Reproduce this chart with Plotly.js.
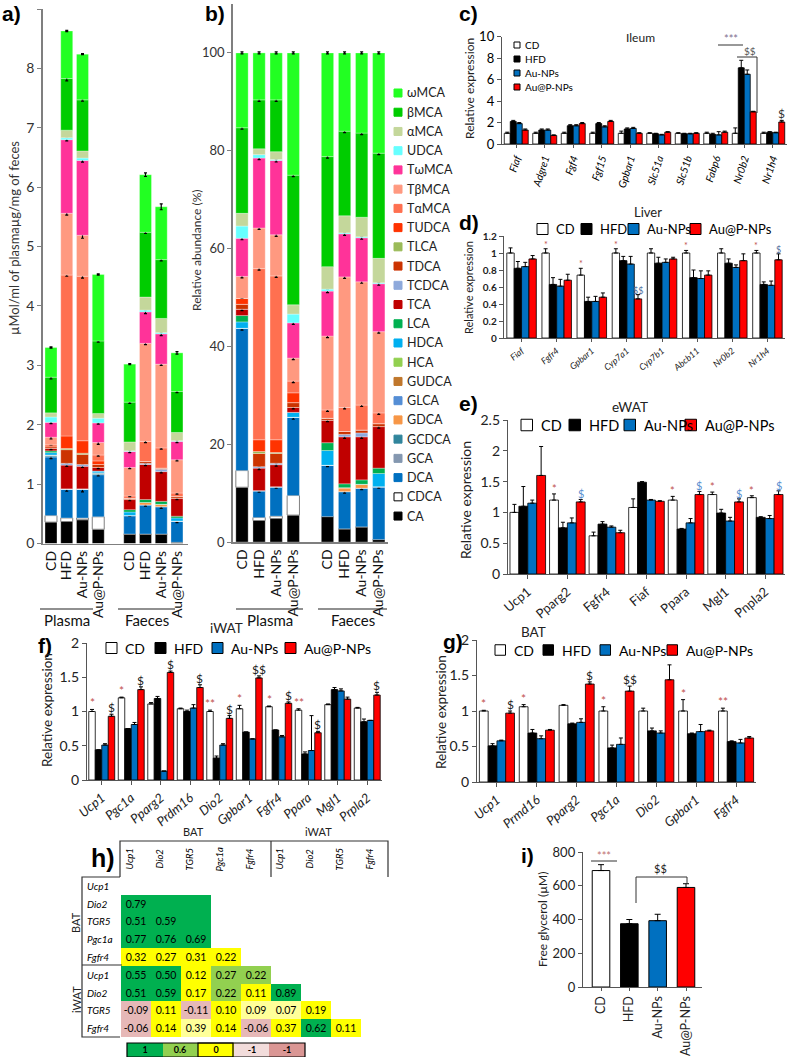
<!DOCTYPE html>
<html><head><meta charset="utf-8">
<script src="https://cdn.plot.ly/plotly-3.0.1.min.js"></script>
<style>html,body{margin:0;padding:0;background:#fff}#chart{width:789px;height:1057px}</style>
</head><body><div id="chart"></div><script>
const W=789,H=1057;
const FONT='Lato, "Noto Sans", "DejaVu Sans", sans-serif';
const TXT='#333333';

// ---------- Panels a & b : bile acids ----------
const barLabels=['CD','HFD','Au-NPs','Au@P-NPs','CD','HFD','Au-NPs','Au@P-NPs'];
const barPositions=[0,1,2,3,5,6,7,8];
const sampleGroups=['Plasma','Faeces'];
const acidNames=['CA','CDCA','DCA','GCA','GCDCA','GDCA','GLCA','GUDCA','HCA','HDCA','LCA','TCA','TCDCA','TDCA','TLCA','TUDCA','TαMCA','TβMCA','TωMCA','UDCA','αMCA','βMCA','ωMCA'];
const acidColors=['#000000','#ffffff','#0070c0','#8497b0','#31859c','#f79646','#558ed5','#c0772c','#92d050','#00b0f0','#00b050','#c00000','#8ea9db','#cc3300','#9bbb59','#ff3300','#ff7050','#ff9980','#ff3399','#66ffff','#c4d79b','#00cc00','#22ff22'];

// absolute concentrations (µMol/ml plasma, µg/mg feces)
const concCA=[0.36,0.37,0.40,0.24,0.16,0.16,0.16,0.02];
const concCDCA=[0.11,0.06,0.03,0.21,0,0,0,0];
const concDCA=[0.99,0.49,0.49,0.71,0.31,0.49,0.46,0.36];
const concGCA=[0,0,0,0,0,0,0,0];
const concGCDCA=[0.03,0,0,0.03,0,0,0,0];
const concGDCA=[0,0,0,0,0,0.04,0.04,0];
const concGLCA=[0,0,0,0,0,0,0,0];
const concGUDCA=[0,0,0,0,0,0,0,0];
const concHCA=[0,0,0,0,0,0,0,0];
const concHDCA=[0.04,0,0,0.03,0.06,0,0,0.05];
const concLCA=[0.03,0,0,0,0.04,0.05,0.05,0.03];
const concTCA=[0.04,0.40,0.38,0.06,0.17,0.59,0.50,0.30];
const concTCDCA=[0,0.03,0.03,0,0,0.02,0.04,0];
const concTDCA=[0.03,0.23,0.17,0.05,0.02,0.03,0.02,0.03];
const concTLCA=[0,0.02,0.02,0,0,0,0,0];
const concTUDCA=[0.03,0.21,0.21,0.06,0,0,0,0];
const concTaMCA=[0,2.71,2.77,0.10,0.04,0.34,0.34,0.06];
const concTbMCA=[0.13,1.04,0.69,0.21,0.48,1.65,1.41,0.56];
const concTwMCA=[0.25,1.24,1.26,0.33,0.27,0.53,0.51,0.31];
const concUDCA=[0.09,0.03,0.04,0.08,0.01,0.03,0.02,0.01];
const concaMCA=[0.07,0.13,0.12,0.08,0.15,0.22,0.24,0.14];
const concbMCA=[0.60,0.87,0.86,1.22,0.67,1.09,0.99,0.69];
const concwMCA=[0.50,0.80,0.77,1.12,0.64,0.97,0.89,0.65];
const concRows=[concCA,concCDCA,concDCA,concGCA,concGCDCA,concGDCA,concGLCA,concGUDCA,concHCA,concHDCA,concLCA,concTCA,concTCDCA,concTDCA,concTLCA,concTUDCA,concTaMCA,concTbMCA,concTwMCA,concUDCA,concaMCA,concbMCA,concwMCA];
// SEM of the main fractions (absolute)
const concErrDCA=[0.03,0.04,0.05,0.02,0.01,0.02,0.03,0.03];
const concErrTCA=[0.02,0.02,0.02,0.02,0.02,0.02,0.02,0.02];
const concErrTaMCA=[0,0.02,0.03,0.02,0.01,0.02,0.02,0.02];
const concErrTbMCA=[0.03,0.03,0.05,0.03,0.02,0.02,0.02,0.02];
const concErrTwMCA=[0.02,0.02,0.03,0.02,0.02,0.03,0.03,0.02];
const concErrbMCA=[0.03,0.04,0.02,0.02,0.02,0.02,0.02,0.02];
const concErrwMCA=[0.01,0.01,0.01,0.01,0.01,0.03,0.05,0.02];

// relative abundance (%)
const pctCA=[11.2,4.4,4.8,5.5,5.2,2.7,3.1,0.5];
const pctCDCA=[3.4,0.6,0.5,4.0,0,0,0,0];
const pctDCA=[29.1,5.5,6.0,16.0,10.5,7.6,7.9,10.8];
const pctGCA=[0,0,0,0,0,0,0,0];
const pctGCDCA=[0,0,0,0,0,0,0,0];
const pctGDCA=[0,0,0,0,0,0.8,0.8,0];
const pctGLCA=[0,0,0,0,0,0,0,0];
const pctGUDCA=[0,0,0,0,0,0,0,0];
const pctHCA=[0,0,0,0,0,0,0,0];
const pctHDCA=[1.3,0,0,1.0,3.0,0,0,2.7];
const pctLCA=[1.3,0,0,0,1.6,0.8,0.9,1.1];
const pctTCA=[1.3,4.6,4.5,1.0,4.6,9.6,8.8,8.5];
const pctTCDCA=[0,0.3,0.3,0,0,0.5,0.8,0];
const pctTDCA=[1.0,2.7,2.0,1.0,0.4,0.6,0.6,0.6];
const pctTLCA=[0,0.4,0.2,0,0,0,0,0];
const pctTUDCA=[1.2,2.4,2.6,2.0,0,0,0,0];
const pctTaMCA=[0,35.0,33.5,2.4,1.7,4.9,5.1,2.2];
const pctTbMCA=[4.5,8.3,8.4,4.7,15.1,26.7,25.2,16.6];
const pctTwMCA=[7.8,14.3,15.2,7.2,9.2,8.8,9.0,9.8];
const pctUDCA=[2.5,0.7,0.2,1.8,0.4,0.2,0.2,0.2];
const pctaMCA=[2.6,1.2,1.6,1.9,4.6,3.5,4.0,5.0];
const pctbMCA=[17.5,10.0,10.6,26.5,22.5,17.3,17.2,21.5];
const pctwMCA=[15.3,9.6,9.6,25.0,21.2,16.0,16.4,20.5];
const pctRows=[pctCA,pctCDCA,pctDCA,pctGCA,pctGCDCA,pctGDCA,pctGLCA,pctGUDCA,pctHCA,pctHDCA,pctLCA,pctTCA,pctTCDCA,pctTDCA,pctTLCA,pctTUDCA,pctTaMCA,pctTbMCA,pctTwMCA,pctUDCA,pctaMCA,pctbMCA,pctwMCA];
// SEM of the main fractions (relative)
const pctErrDCA=[0.4,0.3,0.3,0.4,0.3,0.3,0.3,0.3];
const pctErrTCA=[0.3,0.3,0.3,0.3,0.3,0.3,0.3,0.3];
const pctErrTaMCA=[0,0.3,0.3,0.3,0.3,0.3,0.3,0.3];
const pctErrTbMCA=[0.3,0.3,0.3,0.3,0.3,0.3,0.3,0.3];
const pctErrTwMCA=[0.3,0.3,0.3,0.3,0.3,0.3,0.3,0.3];
const pctErrbMCA=[0.3,0.3,0.3,0.3,0.3,0.3,0.3,0.3];
const pctErrwMCA=[0.2,0.2,0.2,0.2,0.2,0.2,0.2,0.2];

// ---------- Grouped expression panels ----------
const seriesNames=['CD','HFD','Au-NPs','Au@P-NPs'];
const seriesColors=['#ffffff','#000000','#0070c0','#ff0000'];

const ileumGenes=['Fiaf','Adgre1','Fgf4','Fgf15','Gpbar1','Slc51a','Slc51b','Fabp6','Nr0b2','Nr1h4'];
const ileumCD=[1,1,1,1,1,1,1,1,1,1];
const ileumHFD=[2.1,1.3,1.7,1.9,1.4,0.95,0.95,0.9,7.1,1.1];
const ileumAu=[1.9,1.3,1.7,1.6,1.45,0.85,0.95,0.85,6.5,1.05];
const ileumAuP=[1.3,0.8,1.9,2.1,1.0,1.1,1.0,1.1,3.0,2.05];
const ileumCDErr=[0.1,0.1,0.1,0.1,0.2,0.05,0.05,0.1,0.5,0.1];
const ileumHFDErr=[0.1,0.1,0.1,0.1,0.1,0.05,0.05,0.1,0.7,0.05];
const ileumAuErr=[0.1,0.1,0.1,0.1,0.1,0.05,0.05,0.3,0.4,0.05];
const ileumAuPErr=[0.1,0.05,0.1,0.1,0.05,0.05,0.05,0.1,0.05,0.15];

const liverGenes=['Fiaf','Fgfr4','Gpbar1','Cyp7a1','Cyp7b1','Abcb11','Nr0b2','Nr1h4'];
const liverCD=[1.0,1.0,0.74,1.0,1.0,1.0,1.0,1.0];
const liverHFD=[0.82,0.63,0.43,0.91,0.88,0.71,0.88,0.63];
const liverAu=[0.84,0.61,0.43,0.87,0.89,0.70,0.83,0.62];
const liverAuP=[0.93,0.68,0.48,0.46,0.93,0.74,0.91,0.92];
const liverCDErr=[0.06,0.05,0.08,0.05,0.05,0.03,0.05,0.03];
const liverHFDErr=[0.08,0.08,0.05,0.05,0.07,0.09,0.05,0.03];
const liverAuErr=[0.05,0.08,0.06,0.09,0.04,0.09,0.03,0.05];
const liverAuPErr=[0.04,0.07,0.05,0.05,0.02,0.05,0.08,0.07];

const ewatGenes=['Ucp1','Pparg2','Fgfr4','Fiaf','Ppara','Mgl1','Pnpla2'];
const ewatCD=[1.0,1.2,0.62,1.08,1.2,1.29,1.24];
const ewatHFD=[1.1,0.75,0.81,1.49,0.73,0.99,0.92];
const ewatAu=[1.15,0.83,0.76,1.2,0.83,0.86,0.9];
const ewatAuP=[1.6,1.17,0.67,1.18,1.29,1.17,1.29];
const ewatCDErr=[0.13,0.1,0.06,0.14,0.06,0.04,0.03];
const ewatHFDErr=[0.32,0.09,0.04,0.01,0.01,0.06,0.01];
const ewatAuErr=[0.05,0.08,0.02,0.01,0.07,0.06,0.05];
const ewatAuPErr=[0.47,0.04,0.04,0.01,0.05,0.05,0.06];

const iwatGenes=['Ucp1','Pgc1a','Pparg2','Prdm16','Dio2','Gpbar1','Fgfr4','Ppara','Mgl1','Prpla2'];
const iwatCD=[1.0,1.2,1.11,1.04,1.0,1.04,1.07,1.02,1.1,1.05];
const iwatHFD=[0.44,0.75,1.19,1.0,0.32,0.7,0.73,0.38,1.32,0.85];
const iwatAu=[0.51,0.81,0.13,1.05,0.51,0.6,0.63,0.43,1.3,0.87];
const iwatAuP=[0.93,1.32,1.57,1.35,0.9,1.49,1.12,0.69,1.18,1.24];
const iwatCDErr=[0.03,0.01,0.02,0.01,0.02,0.05,0.01,0.02,0.01,0.01];
const iwatHFDErr=[0,0,0.03,0.02,0.03,0,0,0.03,0.03,0.04];
const iwatAuErr=[0.02,0.03,0,0.05,0.02,0,0.02,0.51,0.03,0];
const iwatAuPErr=[0.03,0.04,0.02,0.04,0.04,0.03,0.02,0.02,0.03,0.04];

const batGenes=['Ucp1','Prmd16','Pparg2','Pgc1a','Dio2','Gpbar1','Fgfr4'];
const batCD=[1.0,1.06,1.08,1.0,1.0,1.0,1.0];
const batHFD=[0.51,0.69,0.82,0.48,0.72,0.68,0.57];
const batAu=[0.58,0.61,0.84,0.53,0.69,0.71,0.55];
const batAuP=[0.97,0.73,1.38,1.28,1.44,0.72,0.62];
const batCDErr=[0.01,0.03,0.01,0.06,0.04,0.16,0.04];
const batHFDErr=[0.03,0.05,0.01,0.04,0.04,0.01,0.01];
const batAuErr=[0.01,0.04,0.05,0.09,0.03,0.1,0.05];
const batAuPErr=[0.03,0.01,0.03,0.07,0.21,0.01,0.02];

// significance marks: [gene, series index, mark]
const liverMarks=[['Fgfr4',0,'*'],['Gpbar1',0,'*'],['Cyp7a1',0,'*'],['Cyp7a1',3,'$$'],['Abcb11',0,'*'],['Nr1h4',0,'*'],['Nr1h4',3,'$']];
const ileumMarks=[['Nr1h4',3,'$']];
const ewatMarks=[['Pparg2',0,'*'],['Pparg2',3,'$'],['Ppara',0,'*'],['Ppara',3,'$'],['Mgl1',0,'*'],['Mgl1',3,'$'],['Pnpla2',0,'*'],['Pnpla2',3,'$']];
const iwatMarks=[['Ucp1',0,'*'],['Ucp1',3,'$'],['Pgc1a',0,'*'],['Pgc1a',3,'$'],['Pparg2',3,'$'],['Prdm16',3,'$'],['Dio2',0,'**'],['Dio2',3,'$'],['Gpbar1',0,'*'],['Gpbar1',3,'$$'],['Fgfr4',0,'*'],['Fgfr4',3,'$'],['Ppara',0,'**'],['Ppara',3,'$'],['Prpla2',3,'$']];
const batMarks=[['Ucp1',0,'*'],['Ucp1',3,'$'],['Prmd16',0,'*'],['Pparg2',3,'$'],['Pgc1a',0,'*'],['Pgc1a',3,'$$'],['Gpbar1',0,'*'],['Fgfr4',0,'**']];

// ---------- Panel i ----------
const glycerolGroups=['CD','HFD','Au-NPs','Au@P-NPs'];
const glycerolValues=[690,375,393,590];
const glycerolErr=[35,25,38,22];

// ---------- Panel h : correlation table ----------
const corrLabels=['Ucp1','Dio2','TGR5','Pgc1a','Fgfr4','Ucp1','Dio2','TGR5','Fgfr4'];
const corrValues=[
 [null,null,null,null,null,null,null,null,null],
 [0.79,null,null,null,null,null,null,null,null],
 [0.51,0.59,null,null,null,null,null,null,null],
 [0.77,0.76,0.69,null,null,null,null,null,null],
 [0.32,0.27,0.31,0.22,null,null,null,null,null],
 [0.55,0.50,0.12,0.27,0.22,null,null,null,null],
 [0.51,0.59,0.17,0.22,0.11,0.89,null,null,null],
 [-0.09,0.11,-0.11,0.10,0.09,0.07,0.19,null,null],
 [-0.06,0.14,0.39,0.14,-0.06,0.37,0.62,0.11,null]];
// colour class: 0 dark green, 1 light green, 2 yellow, 3 pale yellow, 4 pink
const corrClass=[
 [null,null,null,null,null,null,null,null,null],
 [0,0,0,null,null,null,null,null,null],
 [0,0,0,null,null,null,null,null,null],
 [0,0,0,null,null,null,null,null,null],
 [2,2,2,2,null,null,null,null,null],
 [0,0,2,1,1,null,null,null,null],
 [0,0,2,1,2,0,null,null,null],
 [4,2,4,2,3,3,2,null,null],
 [4,2,3,2,4,2,0,2,null]];
const keyLabels=['1','0.6','0','-1','-1'];
const keyColors=['#00b050','#92d050','#ffff00','#f2dcdb','#da9694'];

// ================= construction =================
function PX(x){return x/W;} function PY(y){return 1-y/H;}
function xd(a,b){return [a/W,b/W];}
function yd(top,bot){return [1-bot/H,1-top/H];}
const traces=[],shapes=[],annotations=[];
function line(x0,y0,x1,y1,color,w){shapes.push({type:'line',xref:'paper',yref:'paper',x0:PX(x0),y0:PY(y0),x1:PX(x1),y1:PY(y1),line:{color:color||'#000',width:w||1}});}
function path(pts,color,w){shapes.push({type:'path',xref:'paper',yref:'paper',path:pts.map((p,i)=>(i?'L':'M')+PX(p[0])+','+PY(p[1])).join(' '),line:{color:color||'#000',width:w||1}});}
function txt(x,y,t,opt){const o=Object.assign({xref:'paper',yref:'paper',x:PX(x),y:PY(y),text:t,showarrow:false,xanchor:'center',yanchor:'middle'},opt||{});o.font=Object.assign({family:FONT,size:13,color:TXT},(opt||{}).font||{});annotations.push(o);}
function box(x,y,s,fill){shapes.push({type:'rect',xref:'paper',yref:'paper',x0:PX(x),x1:PX(x+s),y0:PY(y+s/2),y1:PY(y-s/2),fillcolor:fill,line:{color:'#000',width:1}});}

// stacked panels
function stacked(rows,errMap,xa,ya,width){
  const base=rows[0].map(()=>0);
  rows.forEach((r,k)=>{
    const tr={type:'bar',x:barPositions,y:r,base:base.slice(),width:width,xaxis:xa,yaxis:ya,name:acidNames[k],showlegend:false,hoverinfo:'name+y',
      marker:{color:acidColors[k],line:{color:k===1?'#808080':'rgba(255,255,255,0.6)',width:k===1?1:0.5}}};
    const e=errMap[acidNames[k]];
    if(e) tr.error_y={type:'data',array:e,color:'#000',thickness:1.2,width:1.5};
    traces.push(tr);
    r.forEach((v,i)=>base[i]+=v);
  });
}
stacked(concRows,{'DCA':concErrDCA,'TCA':concErrTCA,'TαMCA':concErrTaMCA,'TβMCA':concErrTbMCA,'TωMCA':concErrTwMCA,'βMCA':concErrbMCA,'ωMCA':concErrwMCA},'x','y',0.76);
stacked(pctRows,{'DCA':pctErrDCA,'TCA':pctErrTCA,'TαMCA':pctErrTaMCA,'TβMCA':pctErrTbMCA,'TωMCA':pctErrTwMCA,'βMCA':pctErrbMCA,'ωMCA':pctErrwMCA},'x2','y2',0.72);

// grouped panels
function grouped(n,genes,vals,errs,w,marks,markColors,markSize){
  const xa='x'+n,ya='y'+n;
  vals.forEach((v,s)=>{
    traces.push({type:'bar',x:genes,y:v,xaxis:xa,yaxis:ya,width:w,offset:-2*w+s*w,name:seriesNames[s],showlegend:false,
      marker:{color:seriesColors[s],line:{color:'#000',width:0.8}},
      error_y:{type:'data',array:errs[s],arrayminus:errs[s].map(()=>0),symmetric:false,color:'#000',thickness:1,width:2}});
  });
  marks.forEach(m=>{
    const g=genes.indexOf(m[0]),s=m[1];
    annotations.push({xref:xa,yref:ya,x:g-2*w+s*w+w/2,y:vals[s][g]+errs[s][g],text:m[2],showarrow:false,yanchor:'bottom',yshift:-3,
      font:{family:FONT,size:markSize,color:m[2].indexOf('*')>=0?markColors[0]:markColors[1]}});
  });
}
grouped(3,ileumGenes,[ileumCD,ileumHFD,ileumAu,ileumAuP],[ileumCDErr,ileumHFDErr,ileumAuErr,ileumAuPErr],0.21,ileumMarks,['#b05050','#333'],12);
grouped(4,liverGenes,[liverCD,liverHFD,liverAu,liverAuP],[liverCDErr,liverHFDErr,liverAuErr,liverAuPErr],0.21,liverMarks,['#c0504d','#4f6fa0'],9);
grouped(5,ewatGenes,[ewatCD,ewatHFD,ewatAu,ewatAuP],[ewatCDErr,ewatHFDErr,ewatAuErr,ewatAuPErr],0.225,ewatMarks,['#c0504d','#5b8fd0'],11);
grouped(6,iwatGenes,[iwatCD,iwatHFD,iwatAu,iwatAuP],[iwatCDErr,iwatHFDErr,iwatAuErr,iwatAuPErr],0.22,iwatMarks,['#c0504d','#222'],12);
grouped(7,batGenes,[batCD,batHFD,batAu,batAuP],[batCDErr,batHFDErr,batAuErr,batAuPErr],0.22,batMarks,['#c0504d','#222'],12);

// panel i
traces.push({type:'bar',x:glycerolGroups,y:glycerolValues,xaxis:'x8',yaxis:'y8',width:0.62,showlegend:false,name:'Free glycerol',
  marker:{color:seriesColors,line:{color:'#000',width:1}},
  error_y:{type:'data',array:glycerolErr,arrayminus:glycerolErr.map(()=>0),symmetric:false,color:'#000',thickness:1,width:3}});

// panel h heatmap
const idx=corrLabels.map((_,i)=>i);
traces.push({type:'heatmap',x:idx,y:idx,z:corrClass,text:corrValues.map(r=>r.map(v=>v==null?'':v.toFixed(2))),texttemplate:'%{text}',
  textfont:{family:FONT,size:10.5,color:'#000'},zmin:-0.5,zmax:4.5,showscale:false,hoverinfo:'skip',xaxis:'x9',yaxis:'y9',
  colorscale:[[0,'#00b050'],[0.2,'#00b050'],[0.2,'#92d050'],[0.4,'#92d050'],[0.4,'#ffff00'],[0.6,'#ffff00'],[0.6,'#ffff99'],[0.8,'#ffff99'],[0.8,'#e6b8b7'],[1,'#e6b8b7']]});
traces.push({type:'heatmap',x:keyLabels.map((_,i)=>i),y:[0],z:[keyLabels.map((_,i)=>i)],text:[keyLabels],texttemplate:'%{text}',
  textfont:{family:FONT,size:9,color:'#000',weight:'bold'},zmin:-0.5,zmax:4.5,showscale:false,hoverinfo:'skip',xaxis:'x10',yaxis:'y10',
  colorscale:keyColors.flatMap((c,i)=>[[i/5,c],[(i+1)/5,c]])});

// ---------- axes ----------
function yax(top,bot,range,anchor,extra){return Object.assign({domain:yd(top,bot),range:range,anchor:anchor,showgrid:false,zeroline:false,showline:true,
  linecolor:'#7f7f7f',linewidth:1.2,ticks:'outside',ticklen:4,tickcolor:'#7f7f7f',tickfont:{family:FONT,size:13,color:TXT},fixedrange:true},extra||{});}
function xax(a,b,anchor,extra){return Object.assign({domain:xd(a,b),anchor:anchor,showgrid:false,zeroline:false,showline:true,linecolor:'#7f7f7f',linewidth:1.2,
  ticks:'',tickfont:{family:FONT,size:13,color:TXT},fixedrange:true},extra||{});}

const layout={width:W,height:H,margin:{l:0,r:0,t:0,b:0},paper_bgcolor:'#fff',plot_bgcolor:'rgba(0,0,0,0)',barmode:'overlay',showlegend:false,
  font:{family:FONT,color:TXT},
  xaxis:xax(43,188,'y',{range:[-0.508,8.70],tickmode:'array',tickvals:barPositions,ticktext:barLabels,tickangle:-90,tickfont:{family:FONT,size:14,color:'#111'},linewidth:1.8}),
  yaxis:yax(9,543.5,[0,9],'x',{dtick:1,tickfont:{family:FONT,size:14,color:TXT},linewidth:1.8}),
  xaxis2:xax(233,388,'y2',{range:[-0.526,8.54],tickmode:'array',tickvals:barPositions,ticktext:barLabels,tickangle:-90,tickfont:{family:FONT,size:14,color:'#111'},linewidth:1.8}),
  yaxis2:yax(4,542,[0,110],'x2',{tickvals:[0,20,40,60,80,100],tickfont:{family:FONT,size:13,color:TXT},linewidth:1.8}),
  xaxis3:xax(502,787,'y3',{range:[-0.5,9.5],tickangle:-72,ticks:'outside',ticklen:3,tickcolor:'#555',linecolor:'#555',tickfont:{family:FONT,size:10.5,color:'#000',style:'italic'}}),
  yaxis3:yax(36.7,144,[0,10],'x3',{dtick:2,linecolor:'#555',tickcolor:'#555',tickfont:{family:FONT,size:13,color:'#000'}}),
  xaxis4:xax(504,785,'y4',{range:[-0.5,7.5],tickangle:-40,ticks:'outside',ticklen:3,tickcolor:'#555',linecolor:'#555',tickfont:{family:FONT,size:9,color:'#222',style:'italic'}}),
  yaxis4:yax(236,338,[0,1.2],'x4',{dtick:0.2,linecolor:'#555',tickcolor:'#555',tickfont:{family:FONT,size:10,color:'#222',weight:'bold'}}),
  xaxis5:xax(508,785,'y5',{range:[-0.5,6.5],tickangle:-40,ticks:'outside',ticklen:4,tickcolor:'#555',linecolor:'#555',tickfont:{family:FONT,size:13,color:'#222'}}),
  yaxis5:yax(420,574,[0,2.5],'x5',{dtick:0.5,linecolor:'#555',tickcolor:'#555',tickfont:{family:FONT,size:14,color:'#222'}}),
  xaxis6:xax(87,382,'y6',{range:[-0.5,9.5],tickangle:-40,ticks:'outside',ticklen:4,tickcolor:'#555',linecolor:'#555',tickfont:{family:FONT,size:13,color:'#222',style:'italic'}}),
  yaxis6:yax(643,780,[0,2],'x6',{dtick:0.5,linecolor:'#555',tickcolor:'#555',tickfont:{family:FONT,size:14,color:'#222'}}),
  xaxis7:xax(477,756,'y7',{range:[-0.5,6.5],tickangle:-40,ticks:'outside',ticklen:4,tickcolor:'#555',linecolor:'#555',tickfont:{family:FONT,size:13,color:'#222',style:'italic'}}),
  yaxis7:yax(640,782,[0,2],'x7',{dtick:0.5,linecolor:'#555',tickcolor:'#555',tickfont:{family:FONT,size:14,color:'#222'}}),
  xaxis8:xax(583,702,'y8',{range:[-0.636,3.565],tickangle:-90,ticks:'outside',ticklen:3,tickcolor:'#555',linecolor:'#555',tickfont:{family:FONT,size:12.5,color:'#222'}}),
  yaxis8:yax(852,987,[0,800],'x8',{dtick:200,linecolor:'#555',tickcolor:'#555',tickfont:{family:FONT,size:13,color:'#222'}}),
  xaxis9:{domain:xd(121,391),range:[-0.5,8.5],anchor:'y9',visible:false,fixedrange:true},
  yaxis9:{domain:yd(877,1037),range:[8.5,-0.5],anchor:'x9',visible:false,fixedrange:true},
  xaxis10:{domain:xd(127,305),range:[-0.5,4.5],anchor:'y10',visible:false,fixedrange:true},
  yaxis10:{domain:yd(1043,1057),range:[-0.5,0.5],anchor:'x10',visible:false,fixedrange:true},
  shapes:shapes,annotations:annotations};

// ---------- text, labels, legends ----------
const LET={family:'"Liberation Sans", Arial, sans-serif',size:21,color:'#000',weight:'bold'};
[['a)',0,14],['b)',203,14],['c)',457,14],['d)',457,222],['e)',457,403],['f)',36,645],['g)',441,642],['i)',519,855]].forEach(p=>txt(p[1],p[2],p[0],{xanchor:'left',font:LET}));
txt(89,858,'h)',{xanchor:'left',font:Object.assign({},LET,{size:25})});

// y titles
txt(14,238,'µMol/ml of plasmaµg/mg of feces',{textangle:-90,font:{size:13}});
txt(197,250,'Relative abundance (%)',{textangle:-90,font:{size:12}});
txt(470,88,'Relative expression',{textangle:-90,font:{size:12,color:'#222'}});
txt(468,287,'Relative expression',{textangle:-90,font:{size:11,color:'#222'}});
txt(465,500,'Relative expression',{textangle:-90,font:{size:14,color:'#222'}});
txt(47,710,'Relative expression',{textangle:-90,font:{size:13.5,color:'#222'}});
txt(441,712,'Relative expression',{textangle:-90,font:{size:13.5,color:'#222'}});
txt(542,920,'Free glycerol (µM)',{textangle:-90,font:{size:12,color:'#222'}});

// group labels under a & b
[[40,93],[118,175],[236,303],[318,387]].forEach((s,i)=>{line(s[0],609,s[1],609,'#222',1.2);txt((s[0]+s[1])/2,620,sampleGroups[i%2],{font:{size:15,color:'#111'}});});

// panel b legend (top = last acid)
acidNames.slice().reverse().forEach((nm,k)=>{
  const y=93+k*19.23, c=acidColors[acidNames.length-1-k];
  shapes.push({type:'rect',xref:'paper',yref:'paper',x0:PX(394),x1:PX(402),y0:PY(y+4),y1:PY(y-4),fillcolor:c,line:{color:c==='#ffffff'?'#000':c,width:1}});
  txt(405,y,nm,{xanchor:'left',font:{size:12.5,color:'#222'}});
});

// panel titles
txt(640,37,'Ileum',{font:{size:12,color:'#222'}});
txt(648,212,'Liver',{font:{size:13,color:'#222'}});
txt(630,407,'eWAT',{font:{size:13.5,color:'#222'}});
txt(227,628,'iWAT',{font:{size:13.5,color:'#222'}});
txt(533,632,'BAT',{font:{size:13.5,color:'#222'}});

// series legends
seriesNames.forEach((nm,i)=>{box(514,45+i*14,6,seriesColors[i]);txt(523,45+i*14,nm,{xanchor:'left',font:{size:10,color:'#000'}});});
function legendRow(xs,y,size,fs){seriesNames.forEach((nm,i)=>{box(xs[i],y,size,seriesColors[i]);txt(xs[i]+size+6,y,nm,{xanchor:'left',font:{size:fs,color:'#000'}});});}
legendRow([537,581,628,690],229,11,13);
legendRow([521,569,624,685],425,11.5,14.5);
legendRow([106,155,212,285],648,11,14);
legendRow([495,543,600,667],650,10.5,14);

// c brackets
line(718,45,743,45,'#333',1);
txt(731,39,'***',{font:{size:11,color:'#7f6f8f'}});
txt(750,51,'$$',{font:{size:10,color:'#555'}});
path([[737,57],[757,57],[757,113]],'#333',1);
// i brackets
line(591,861,617,861,'#333',1);
txt(604,855,'***',{font:{size:11,color:'#c07070'}});
txt(660,868,'$$',{font:{size:11,color:'#222'}});
path([[636,903],[636,877],[687,877],[687,883]],'#333',1);

// h table frame and labels
txt(193,831,'BAT',{font:{size:11,color:'#222'}});
txt(318,831,'iWAT',{font:{size:11,color:'#222'}});
path([[120,877],[120,841],[388,841],[388,877]],'#333',1.2);
line(271,841,271,877,'#333',1.2);
path([[120,877],[82,877],[82,1037],[120,1037]],'#333',1.2);
line(82,965,122,965,'#333',1.2);
txt(75,923,'BAT',{textangle:-90,font:{size:11,color:'#222'}});
txt(76,1000,'iWAT',{textangle:-90,font:{size:11,color:'#222'}});
corrLabels.forEach((nm,i)=>{
  annotations.push({xref:'x9',yref:'paper',x:i-0.22,y:PY(859),yanchor:'middle',text:nm,textangle:-90,showarrow:false,font:{family:FONT,size:9.5,color:'#000',style:'italic'}});
  annotations.push({xref:'paper',yref:'y9',x:PX(85),y:i,xanchor:'left',text:nm,showarrow:false,font:{family:FONT,size:10,color:'#000',style:'italic'}});
});
shapes.push({type:'rect',xref:'paper',yref:'paper',x0:PX(127),x1:PX(305),y0:PY(1057),y1:PY(1043),line:{color:'#000',width:1.2}});
shapes.push({type:'rect',xref:'paper',yref:'paper',x0:PX(198),x1:PX(233),y0:PY(1057),y1:PY(1043),line:{color:'#000',width:1.2}});

Plotly.newPlot('chart',traces,layout,{staticPlot:true});
</script></body></html>
